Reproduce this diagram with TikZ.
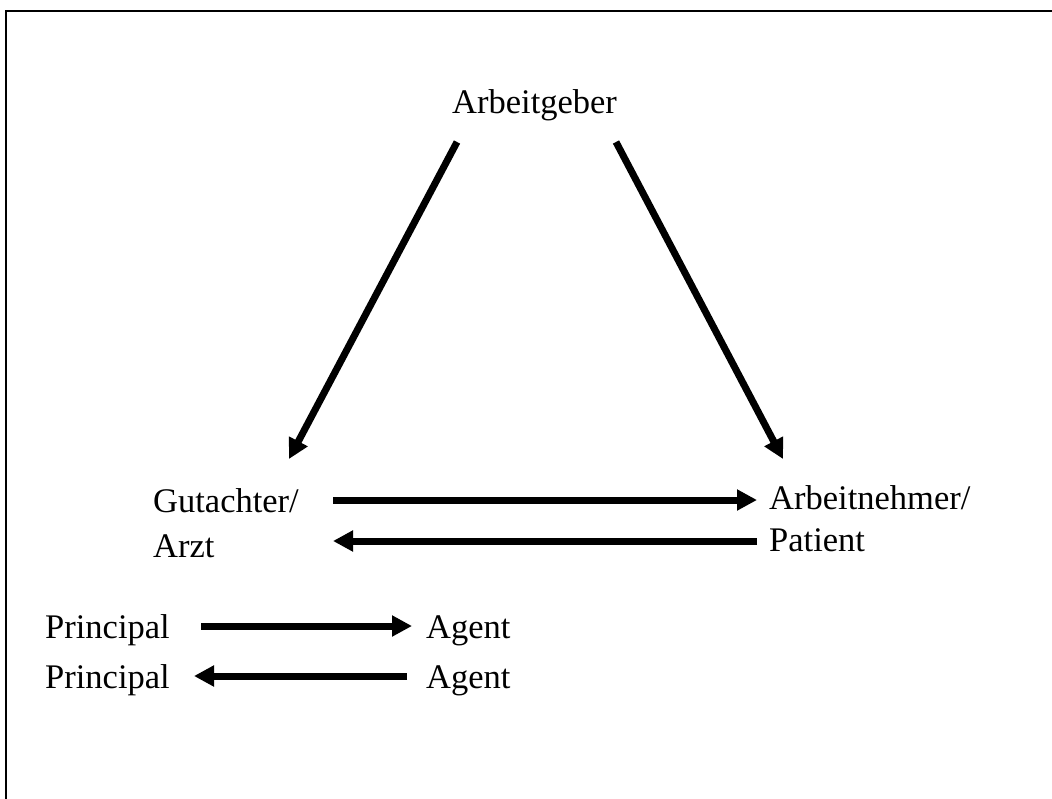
\documentclass[tikz,border=0pt]{standalone}
\usepackage{fontspec}
\setmainfont{Liberation Serif}
\usetikzlibrary{arrows.meta,calc}
\begin{document}
\begin{tikzpicture}[x=1pt,y=1pt,
  lbl/.style={inner sep=0pt, anchor=base west, font=\fontsize{34.5}{40}\selectfont},
  arr/.style={line width=7pt, -{Triangle[length=20pt 0 0, width=20pt 0 0]}},
  frame/.style={line width=2pt}]
\useasboundingbox (0,0) rectangle (1052,-798);
\draw[frame] (6,-900) -- (6,-11) -- (1100,-11);
\node[lbl] (ag) at (452,-113) {Arbeitgeber};
\node[lbl] (gut1) at (153,-512) {Gutachter/};
\node[lbl] (gut2) at (153,-557) {Arzt};
\node[lbl] (arb1) at (769,-509) {Arbeitnehmer/};
\node[lbl] (arb2) at (769,-551) {Patient};
\node[lbl] (p1) at (45,-638) {Principal};
\node[lbl] (p2) at (45,-688) {Principal};
\node[lbl] (a1) at (426,-638) {Agent};
\node[lbl] (a2) at (426,-688) {Agent};
\draw[arr] ($(ag.base west)+(5,-29)$) -- ($(gut1.base west)+(136,53)$);
\draw[arr] ($(ag.base west)+(164,-29)$) -- ($(arb1.base west)+(14,50)$);
\draw[arr] ($(gut1.base west)+(180,12)$) -- ($(arb1.base west)+(-12,9)$);
\draw[arr] ($(arb2.base west)+(-12,10)$) -- ($(gut2.base west)+(180,16)$);
\draw[arr] ($(p1.base west)+(156,12)$) -- ($(a1.base west)+(-14,12)$);
\draw[arr] ($(a2.base west)+(-19,12)$) -- ($(p2.base west)+(149,12)$);
\end{tikzpicture}
\end{document}
